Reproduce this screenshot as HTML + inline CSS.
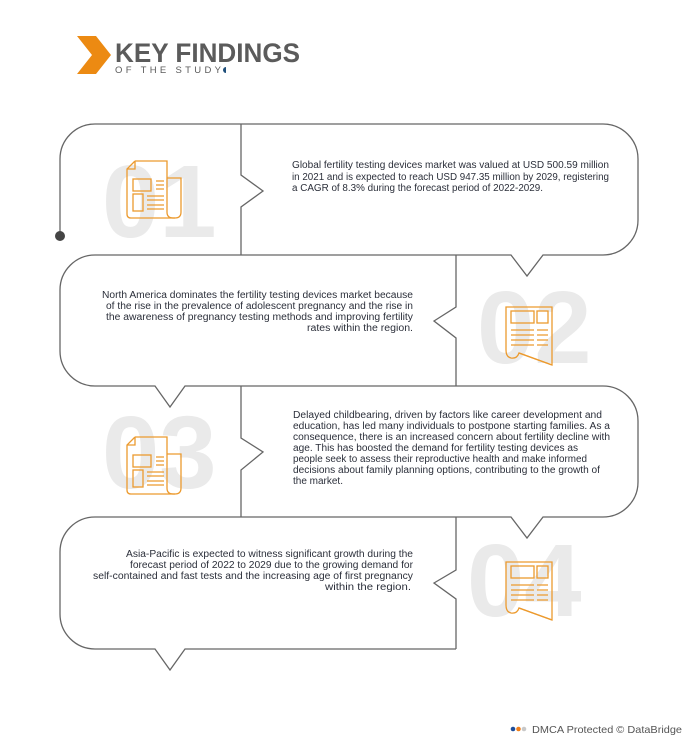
<!DOCTYPE html>
<html><head><meta charset="utf-8"><style>
html,body{margin:0;padding:0;background:#fff;}
svg{display:block;}
text{font-family:"Liberation Sans",sans-serif;}
.t{font-size:10px;fill:#2b2f3a;}
.n{font-size:103px;font-weight:bold;fill:#eaeaea;}
</style></head><body>
<svg width="690" height="745" viewBox="0 0 690 745" xmlns="http://www.w3.org/2000/svg">
<polygon points="77,36 96,36 111,55 96,74 77,74 92,55" fill="#ec8a12"/>
<text x="115" y="62" font-size="27" font-weight="bold" fill="#5b5b5b" textLength="185" lengthAdjust="spacingAndGlyphs">KEY FINDINGS</text>
<text x="115" y="73" font-size="9.5" fill="#5b5b5b" textLength="106" lengthAdjust="spacing">OF THE STUDY</text>
<path d="M226,67 A3,3 0 0 0 226,73 Z" fill="#1d4e7a"/>

<text class="n" x="102" y="237">01</text>
<text class="n" x="477" y="363">02</text>
<text class="n" x="102" y="488">03</text>
<text class="n" x="467" y="616">04</text>

<g fill="none" stroke="#666" stroke-width="1.3">
<path d="M60,236 L60,159 A35,35 0 0 1 95,124 L603,124 A35,35 0 0 1 638,159 L638,220 A35,35 0 0 1 603,255 L543,255 L527,276 L511,255 L95,255 A35,35 0 0 0 60,290 L60,351 A35,35 0 0 0 95,386 L155,386 L170,407 L185,386 L603,386 A35,35 0 0 1 638,421 L638,482 A35,35 0 0 1 603,517 L543,517 L527,538 L511,517 L95,517 A35,35 0 0 0 60,552 L60,614 A35,35 0 0 0 95,649 L155,649 L170,670 L185,649 L456,649"/>
<path d="M241,124 L241,175 L263,191 L241,207 L241,255"/>
<path d="M456,255 L456,307 L434,321 L456,338 L456,386"/>
<path d="M241,386 L241,438 L263,452 L241,470 L241,517"/>
<path d="M456,517 L456,570 L434,583 L456,599 L456,649"/>
</g>
<circle cx="60" cy="236" r="5" fill="#444"/>

<g id="ia" fill="none" stroke="#ec9a2e" stroke-width="1.3">
<path d="M135,161 L167,161 L167,212 Q167,218 173,218 L175,218 Q181,218 181,212 L181,178 L167,178"/>
<path d="M135,161 L127,169 L127,214 Q127,218 131,218 L175,218"/>
<path d="M127,169 L135,169 L135,161"/>
<rect x="133" y="179" width="18" height="12"/>
<rect x="133" y="194" width="10" height="17"/>
<path d="M156,181 H164 M156,185 H164 M156,189 H164 M147,196 H164 M147,200 H164 M147,205 H164 M147,209 H164"/>
</g>
<use href="#ia" transform="translate(0,276)"/>

<g id="ib" fill="none" stroke="#ec9a2e" stroke-width="1.3">
<path d="M506,307 L552,307 L552,365 L519,353 Q517,359 511,358 Q506,357 506,350 Z"/>
<path d="M519,353 L552,365"/>
<rect x="511" y="311" width="23" height="12"/>
<rect x="537" y="311" width="11" height="12"/>
<path d="M511,330 H534 M511,335 H534 M511,340 H534 M511,345 H534 M537,330 H548 M537,335 H548 M537,340 H548 M537,345 H548"/>
</g>
<use href="#ib" transform="translate(0,255)"/>

<text class="t" x="292" y="168" textLength="317" lengthAdjust="spacingAndGlyphs">Global fertility testing devices market was valued at USD 500.59 million</text>
<text class="t" x="292" y="180" textLength="317" lengthAdjust="spacingAndGlyphs">in 2021 and is expected to reach USD 947.35 million by 2029, registering</text>
<text class="t" x="292" y="191" textLength="251" lengthAdjust="spacingAndGlyphs">a CAGR of 8.3% during the forecast period of 2022-2029.</text>

<text class="t" x="102" y="298" textLength="311" lengthAdjust="spacingAndGlyphs">North America dominates the fertility testing devices market because</text>
<text class="t" x="106" y="309" textLength="307" lengthAdjust="spacingAndGlyphs">of the rise in the prevalence of adolescent pregnancy and the rise in</text>
<text class="t" x="106" y="320" textLength="307" lengthAdjust="spacingAndGlyphs">the awareness of pregnancy testing methods and improving fertility</text>
<text class="t" x="307" y="331" textLength="106" lengthAdjust="spacingAndGlyphs">rates within the region.</text>

<text class="t" x="293" y="418" textLength="309" lengthAdjust="spacingAndGlyphs">Delayed childbearing, driven by factors like career development and</text>
<text class="t" x="293" y="429" textLength="317" lengthAdjust="spacingAndGlyphs">education, has led many individuals to postpone starting families. As a</text>
<text class="t" x="293" y="440" textLength="317" lengthAdjust="spacingAndGlyphs">consequence, there is an increased concern about fertility decline with</text>
<text class="t" x="293" y="451" textLength="285" lengthAdjust="spacingAndGlyphs">age. This has boosted the demand for fertility testing devices as</text>
<text class="t" x="293" y="462" textLength="294" lengthAdjust="spacingAndGlyphs">people seek to assess their reproductive health and make informed</text>
<text class="t" x="293" y="473" textLength="307" lengthAdjust="spacingAndGlyphs">decisions about family planning options, contributing to the growth of</text>
<text class="t" x="293" y="484" textLength="50" lengthAdjust="spacingAndGlyphs">the market.</text>

<text class="t" x="126" y="557" textLength="287" lengthAdjust="spacingAndGlyphs">Asia-Pacific is expected to witness significant growth during the</text>
<text class="t" x="130" y="568" textLength="283" lengthAdjust="spacingAndGlyphs">forecast period of 2022 to 2029 due to the growing demand for</text>
<text class="t" x="93" y="579" textLength="320" lengthAdjust="spacingAndGlyphs">self-contained and fast tests and the increasing age of first pregnancy</text>
<text class="t" x="325" y="590" textLength="86" lengthAdjust="spacingAndGlyphs">within the region.</text>

<circle cx="513" cy="729" r="2.3" fill="#1f4e9a"/>
<circle cx="518.5" cy="729" r="2.3" fill="#f07f1b"/>
<circle cx="524" cy="729" r="2.3" fill="#c8c8c8"/>
<text x="532" y="733" font-size="10.5" fill="#555" textLength="150" lengthAdjust="spacingAndGlyphs">DMCA Protected © DataBridge</text>
</svg>
</body></html>
